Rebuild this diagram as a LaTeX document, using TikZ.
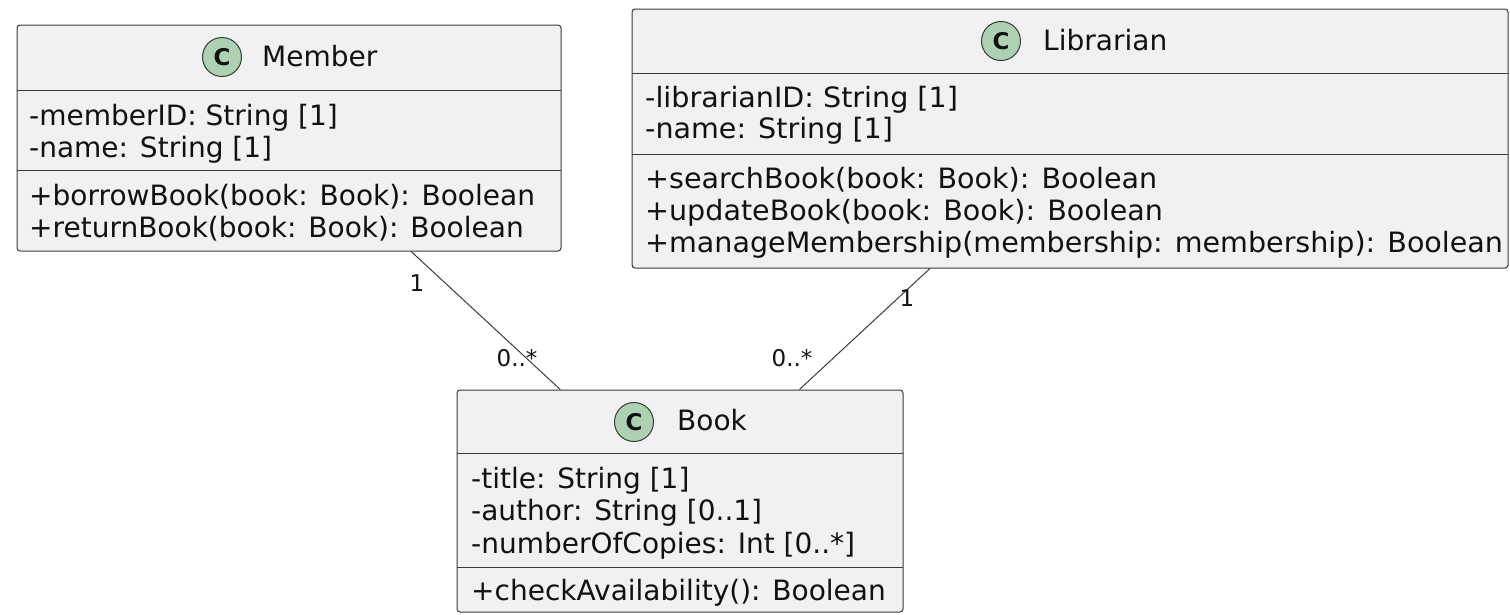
\documentclass[tikz,border=0pt]{standalone}
\usepackage{fontspec}
\usepackage{graphicx}
\setmainfont{DejaVu Sans}
\definecolor{boxfill}{HTML}{F1F1F1}
\definecolor{boxline}{HTML}{3A3A3A}
\definecolor{badgefill}{HTML}{ADD1B2}
\definecolor{badgeline}{HTML}{2F3F32}
\definecolor{inktext}{HTML}{111111}
\newcommand{\widerow}[1]{\scalebox{1.02}[1]{#1}}
\begin{document}
\begin{tikzpicture}[x=1pt,y=-1pt,
  classbox/.style={draw=boxline, fill=boxfill, line width=1pt, rounded corners=3pt,
                   rectangle, inner sep=0pt},
  sepline/.style={draw=boxline, line width=1pt},
  rowtext/.style={anchor=base west, inner sep=0pt, text=inktext,
                  font=\fontsize{28}{32}\selectfont},
  badge/.style={circle, draw=badgeline, fill=badgefill, line width=1pt,
                minimum size=39pt, inner sep=0pt, text=inktext,
                font=\bfseries\fontsize{23}{23}\selectfont},
  assoc/.style={draw=boxline, line width=1pt},
  mult/.style={inner sep=0pt, text=inktext, font=\fontsize{23}{23}\selectfont}]
\useasboundingbox (0,0) rectangle (1510,614);

% ---- Member ----
\node[classbox, minimum width=544pt, minimum height=226pt] (member) at (289,138) {};
\draw[sepline] (17,90) -- (561,90);
\draw[sepline] (17,170) -- (561,170);
\node[badge] (memberC) at (222,57) {C};
\node[rowtext] (memberT) at (262,66) {Member};
\node[rowtext] (m1) at (29,125) {-memberID: String [1]};
\node[rowtext] (m2) at (29,157) {-name: String [1]};
\node[rowtext] (m3) at (29,205) {+borrowBook(book: Book): Boolean};
\node[rowtext] (m4) at (29,237) {+returnBook(book: Book): Boolean};

% ---- Librarian ----
\node[classbox, minimum width=876pt, minimum height=259pt] (librarian) at (1070,138.5) {};
\draw[sepline] (632,73) -- (1508,73);
\draw[sepline] (632,154) -- (1508,154);
\node[badge] (librarianC) at (1001,41) {C};
\node[rowtext] (librarianT) at (1043,50) {Librarian};
\node[rowtext] (l1) at (645,107) {\widerow{-librarianID: String [1]}};
\node[rowtext] (l2) at (645,138) {\widerow{-name: String [1]}};
\node[rowtext] (l3) at (645,188) {\widerow{+searchBook(book: Book): Boolean}};
\node[rowtext] (l4) at (645,220) {\widerow{+updateBook(book: Book): Boolean}};
\node[rowtext] (l5) at (645,252) {\widerow{+manageMembership(membership: membership): Boolean}};

% ---- Book ----
\node[classbox, minimum width=446pt, minimum height=222pt] (book) at (680,501) {};
\draw[sepline] (457,453) -- (903,453);
\draw[sepline] (457,567) -- (903,567);
\node[badge] (bookC) at (634,422) {C};
\node[rowtext] (bookT) at (677,430) {Book};
\node[rowtext] (b1) at (471,488) {-title: String [1]};
\node[rowtext] (b2) at (471,520) {-author: String [0..1]};
\node[rowtext] (b3) at (471,553) {-numberOfCopies: Int [0..*]};
\node[rowtext] (b4) at (471,600) {+checkAvailability(): Boolean};

% ---- associations ----
\draw[assoc] (member) -- (book);
\draw[assoc] (librarian) -- (book);
\node[mult] (mm1) at (417,283) {1};
\node[mult] (mm2) at (517,358) {0..*};
\node[mult] (ml1) at (907,298) {1};
\node[mult] (ml2) at (792,358) {0..*};
\end{tikzpicture}
\end{document}
